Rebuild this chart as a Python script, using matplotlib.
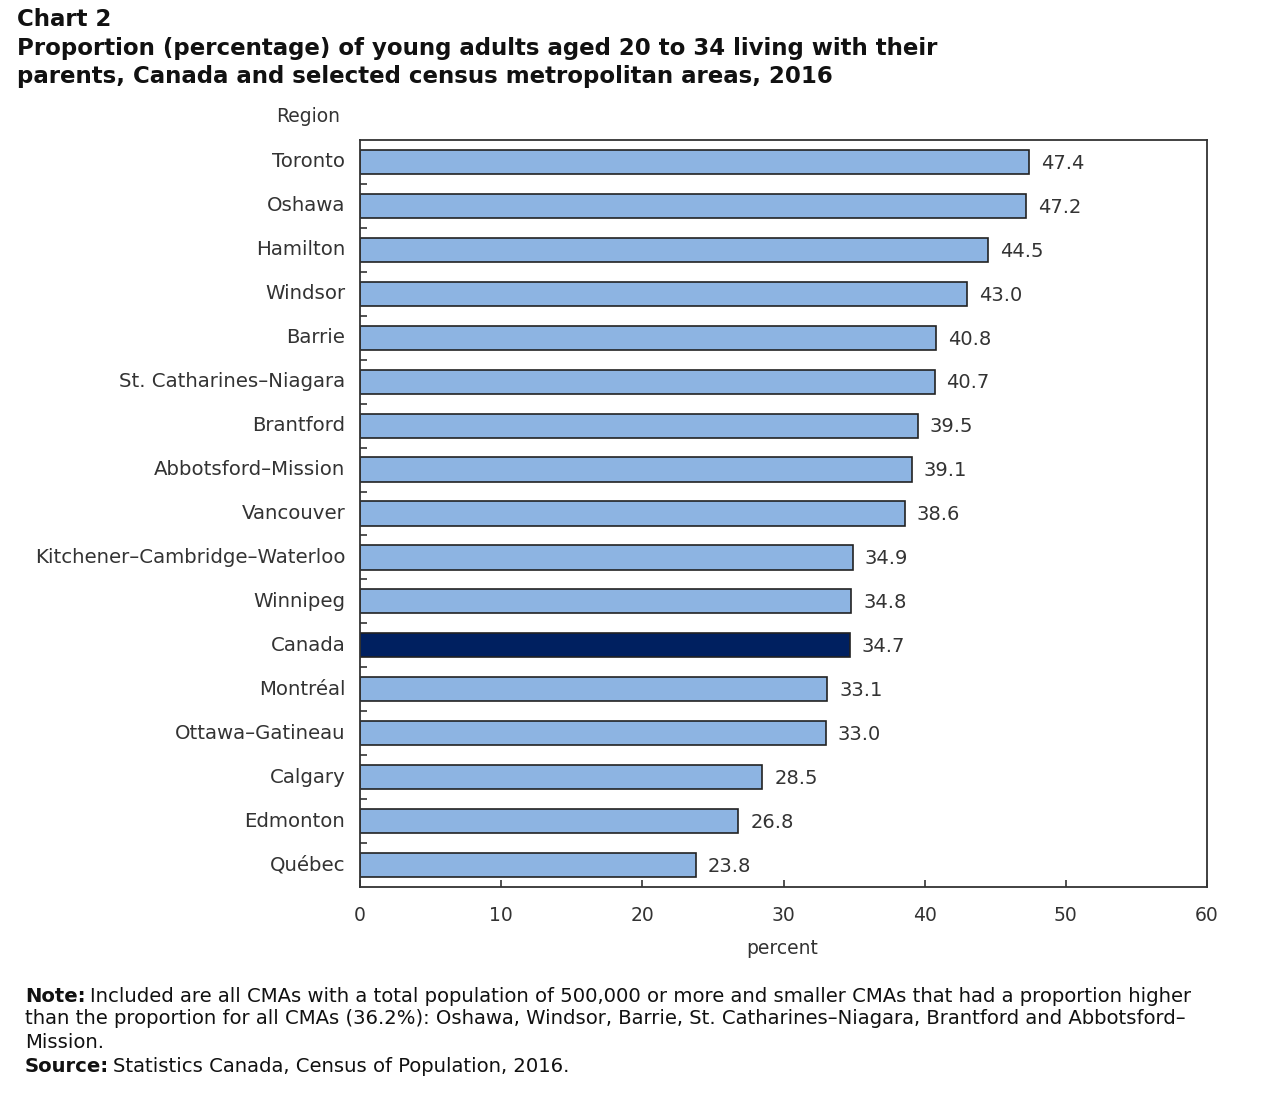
import matplotlib
matplotlib.use("Agg")
import matplotlib.pyplot as plt

regions = ["Toronto", "Oshawa", "Hamilton", "Windsor", "Barrie", "St. Catharines–Niagara",
           "Brantford", "Abbotsford–Mission", "Vancouver", "Kitchener–Cambridge–Waterloo",
           "Winnipeg", "Canada", "Montréal", "Ottawa–Gatineau", "Calgary", "Edmonton", "Québec"]
values = [47.4, 47.2, 44.5, 43.0, 40.8, 40.7, 39.5, 39.1, 38.6, 34.9, 34.8, 34.7,
          33.1, 33.0, 28.5, 26.8, 23.8]
xticks = [0, 10, 20, 30, 40, 50, 60]

plt.rcParams['font.family'] = ['DejaVu Sans']
TXT = '#333333'
W, H = 1280, 1099
fig = plt.figure(figsize=(W/100, H/100), dpi=100)
ax = fig.add_axes([360/W, 1-887/H, (1207-360)/W, (887-140)/H])

n = len(regions)
ypos = list(range(n))
colors = ['#002060' if r == 'Canada' else '#8DB4E2' for r in regions]
ax.barh(ypos, values, height=0.55, color=colors, edgecolor='#222222', linewidth=1.2)
ax.set_ylim(n - 0.5, -0.5)
ax.set_xlim(0, 60)
ax.set_xticks(xticks)
ax.set_xticklabels([str(t) for t in xticks], fontsize=13.5, color=TXT)
ax.tick_params(axis='x', direction='in', length=5, width=1.2, color='#333333', pad=14)
ax.set_yticks([i + 0.5 for i in range(n - 1)])
ax.set_yticklabels([])
ax.tick_params(axis='y', direction='in', length=5, width=1.2, color='#333333')
for i, r in enumerate(regions):
    ax.text(-1.05, i, r, ha='right', va='center', fontsize=14.2, color=TXT)
for i, v in enumerate(values):
    ax.text(v + 0.85, i + 0.03, f"{v:.1f}", ha='left', va='center', fontsize=14, color=TXT)
for s in ax.spines.values():
    s.set_color('#333333')
    s.set_linewidth(1.3)

fig.text(782/W, 1-949/H, "percent", ha='center', va='center', fontsize=13.5, color=TXT)
fig.text(308/W, 1-116/H, "Region", ha='center', va='center', fontsize=13.5, color=TXT)

fig.text(17/W, 1-20/H, "Chart 2", ha='left', va='center', fontsize=16.5, fontweight='bold', color='#111111')
fig.text(17/W, 1-48/H, "Proportion (percentage) of young adults aged 20 to 34 living with their",
         ha='left', va='center', fontsize=16.5, fontweight='bold', color='#111111')
fig.text(17/W, 1-76/H, "parents, Canada and selected census metropolitan areas, 2016",
         ha='left', va='center', fontsize=16.5, fontweight='bold', color='#111111')

fig.canvas.draw()
renderer = fig.canvas.get_renderer()
NFS = 14.1

def mixed(x, y, bold, rest, fs=NFS):
    t = fig.text(x/W, 1-y/H, bold, ha='left', va='center', fontsize=fs, fontweight='bold', color='#111111')
    bb = t.get_window_extent(renderer=renderer)
    fig.text((x + bb.width + 4)/W, 1-y/H, rest, ha='left', va='center', fontsize=fs, color='#111111')

mixed(25, 996, "Note:", "Included are all CMAs with a total population of 500,000 or more and smaller CMAs that had a proportion higher")
fig.text(25/W, 1-1019/H, "than the proportion for all CMAs (36.2%): Oshawa, Windsor, Barrie, St. Catharines–Niagara, Brantford and Abbotsford–",
         ha='left', va='center', fontsize=NFS, color='#111111')
fig.text(25/W, 1-1042/H, "Mission.", ha='left', va='center', fontsize=NFS, color='#111111')
mixed(25, 1066, "Source:", "Statistics Canada, Census of Population, 2016.")

fig.savefig("out.png", dpi=100)
